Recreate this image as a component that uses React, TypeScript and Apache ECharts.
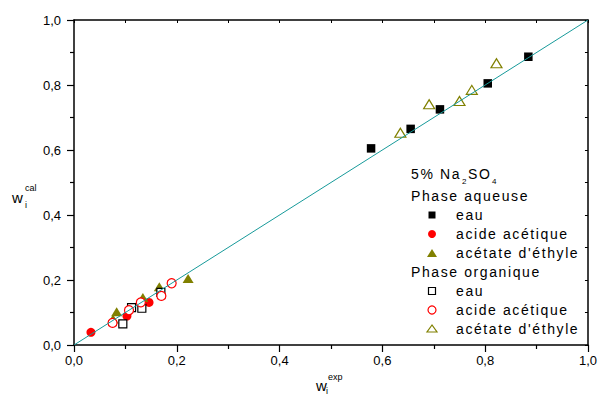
import React, { useEffect, useRef } from 'react';
import * as echarts from 'echarts';

// ---------- data (w_exp vs w_cal) ----------
const tickValues = [0, 0.2, 0.4, 0.6, 0.8, 1.0];
const tickLabels = ['0,0', '0,2', '0,4', '0,6', '0,8', '1,0'];

// Phase aqueuse
const aqEauExp = [0.578, 0.655, 0.712, 0.805, 0.884];
const aqEauCal = [0.605, 0.665, 0.725, 0.805, 0.887];
const aqAcideExp = [0.033, 0.103, 0.146];
const aqAcideCal = [0.039, 0.089, 0.131];
const aqAcetateExp = [0.076, 0.083, 0.134, 0.166, 0.222];
const aqAcetateCal = [0.080, 0.102, 0.146, 0.179, 0.205];

// Phase organique
const orgEauExp = [0.095, 0.112, 0.132, 0.169];
const orgEauCal = [0.065, 0.115, 0.113, 0.162];
const orgAcideExp = [0.075, 0.107, 0.130, 0.170, 0.190];
const orgAcideCal = [0.068, 0.107, 0.131, 0.151, 0.190];
const orgAcetateExp = [0.635, 0.691, 0.750, 0.774, 0.822];
const orgAcetateCal = [0.653, 0.741, 0.751, 0.785, 0.867];

const diagonal = [[0, 0], [1, 1]];

const pairs = (xs: number[], ys: number[]) => xs.map((x, i) => [x, ys[i]]);

const RED = '#ff0000';
const OLIVE = '#808000';
const TEAL = '#179a9a';
const LEG_FONT = '"Liberation Sans", sans-serif';
const AX_FONT = 'Arial, sans-serif';

const fmt = (v: number) => {
  const i = tickValues.findIndex((t) => Math.abs(t - v) < 1e-6);
  return i >= 0 ? tickLabels[i] : '';
};

function legendText(text: string, x: number, y: number, size = 14) {
  return {
    type: 'text',
    x,
    y,
    silent: true,
    style: {
      text,
      fill: '#000',
      fontSize: size,
      fontFamily: LEG_FONT,
      textAlign: 'left',
      textVerticalAlign: 'middle',
    },
  };
}

function nameText(text: string, x: number, y: number, size: number) {
  return {
    type: 'text',
    x,
    y,
    silent: true,
    style: {
      text,
      fill: '#000',
      fontSize: size,
      fontFamily: AX_FONT,
      textAlign: 'left',
      textVerticalAlign: 'middle',
    },
  };
}

export default function App() {
  const ref = useRef<HTMLDivElement>(null);

  useEffect(() => {
    if (!ref.current) return;
    const chart = echarts.init(ref.current, undefined, { renderer: 'svg' });

    const mainAxis = {
      type: 'value',
      min: 0,
      max: 1,
      interval: 0.2,
      axisLine: { show: true, onZero: false, lineStyle: { color: '#000', width: 1.5 } },
      axisTick: { show: true, inside: false, length: 7, lineStyle: { color: '#000', width: 1.2 } },
      minorTick: { show: true, splitNumber: 2, length: 4, lineStyle: { color: '#000', width: 1.2 } },
      splitLine: { show: false },
      minorSplitLine: { show: false },
    };
    const mirrorAxis = {
      type: 'value',
      min: 0,
      max: 1,
      interval: 0.2,
      axisLine: { show: true, onZero: false, lineStyle: { color: '#000', width: 1.5 } },
      axisTick: { show: true, inside: true, length: 3, lineStyle: { color: '#000', width: 1 } },
      minorTick: { show: true, splitNumber: 2, length: 3, lineStyle: { color: '#000', width: 1 } },
      axisLabel: { show: false },
      splitLine: { show: false },
      minorSplitLine: { show: false },
    };

    const lx = 432; // legend marker centre
    const tx = 456; // legend item text
    const hx = 411; // legend header text

    chart.setOption({
      animation: false,
      backgroundColor: '#fff',
      grid: { left: 74, right: 7, top: 20, bottom: 52, containLabel: false },
      xAxis: [
        {
          ...mainAxis,
          position: 'bottom',
          axisLabel: { formatter: fmt, fontSize: 13, fontFamily: AX_FONT, color: '#000', margin: 9 },
        },
        { ...mirrorAxis, position: 'top' },
      ],
      yAxis: [
        {
          ...mainAxis,
          position: 'left',
          axisLabel: { formatter: fmt, fontSize: 13, fontFamily: AX_FONT, color: '#000', margin: 13 },
        },
        { ...mirrorAxis, position: 'right' },
      ],
      series: [
        {
          name: 'eau (aq)',
          type: 'scatter',
          data: pairs(aqEauExp, aqEauCal),
          symbol: 'rect',
          symbolSize: 8.5,
          itemStyle: { color: '#000', opacity: 1 },
          silent: true,
          z: 2,
        },
        {
          name: 'acide acétique (aq)',
          type: 'scatter',
          data: pairs(aqAcideExp, aqAcideCal),
          symbol: 'circle',
          symbolSize: 9,
          itemStyle: { color: RED, opacity: 1 },
          silent: true,
          z: 2,
        },
        {
          name: "acétate d'éthyle (aq)",
          type: 'scatter',
          data: pairs(aqAcetateExp, aqAcetateCal),
          symbol: 'triangle',
          symbolSize: [11, 9],
          itemStyle: { color: OLIVE, opacity: 1 },
          silent: true,
          z: 2,
        },
        {
          name: 'eau (org)',
          type: 'scatter',
          data: pairs(orgEauExp, orgEauCal),
          symbol: 'rect',
          symbolSize: 8,
          itemStyle: { color: '#fff', borderColor: '#000', borderWidth: 1.2, opacity: 1 },
          silent: true,
          z: 3,
        },
        {
          name: 'acide acétique (org)',
          type: 'scatter',
          data: pairs(orgAcideExp, orgAcideCal),
          symbol: 'circle',
          symbolSize: 9,
          itemStyle: { color: '#fff', borderColor: RED, borderWidth: 1.2, opacity: 1 },
          silent: true,
          z: 3,
        },
        {
          name: "acétate d'éthyle (org)",
          type: 'scatter',
          data: pairs(orgAcetateExp, orgAcetateCal),
          symbol: 'triangle',
          symbolSize: [11, 9],
          itemStyle: { color: '#fff', borderColor: OLIVE, borderWidth: 1.2, opacity: 1 },
          silent: true,
          z: 3,
        },
        {
          name: 'y = x',
          type: 'line',
          data: diagonal,
          symbol: 'none',
          lineStyle: { color: TEAL, width: 1 },
          silent: true,
          z: 5,
        },
      ],
      graphic: [
        // axis names
        nameText('w', 12, 197, 15),
        nameText('cal', 25, 188, 9),
        nameText('i', 25, 205, 9),
        nameText('w', 316, 385, 15),
        nameText('exp', 328, 377, 9),
        nameText('i', 326, 391, 9),
        // legend title
        legendText('5% Na', hx, 174),
        legendText('2', 462, 181, 8),
        legendText('SO', 468, 174),
        legendText('4', 492, 181, 8),
        // Phase aqueuse
        legendText('Phase aqueuse', hx, 196),
        { type: 'rect', silent: true, shape: { x: lx - 3.5, y: 215 - 3.5, width: 7, height: 7 }, style: { fill: '#000' } },
        legendText('eau', tx, 215),
        { type: 'circle', silent: true, shape: { cx: lx, cy: 234, r: 4 }, style: { fill: RED } },
        legendText('acide acétique', tx, 234),
        {
          type: 'polygon',
          silent: true,
          shape: { points: [[lx, 249], [lx - 5, 257], [lx + 5, 257]] },
          style: { fill: OLIVE },
        },
        legendText("acétate d'éthyle", tx, 253),
        // Phase organique
        legendText('Phase organique', hx, 272),
        {
          type: 'rect',
          silent: true,
          shape: { x: lx - 3.5, y: 291 - 3.5, width: 7, height: 7 },
          style: { fill: '#fff', stroke: '#000', lineWidth: 1.2 },
        },
        legendText('eau', tx, 291),
        { type: 'circle', silent: true, shape: { cx: lx, cy: 310, r: 4 }, style: { fill: '#fff', stroke: RED, lineWidth: 1.2 } },
        legendText('acide acétique', tx, 310),
        {
          type: 'polygon',
          silent: true,
          shape: { points: [[lx, 325], [lx - 5, 332], [lx + 5, 332]] },
          style: { fill: '#fff', stroke: OLIVE, lineWidth: 1.2 },
        },
        legendText("acétate d'éthyle", tx, 329),
      ],
    });

    return () => chart.dispose();
  }, []);

  return (
    <>
      <style>{`
        body { margin: 0; }
        #chart text[style*="Liberation"], #chart text[font-family*="Liberation"] { letter-spacing: 1.6px; }
      `}</style>
      <div
        id="chart"
        ref={ref}
        style={{ position: 'absolute', left: 0, top: 0, width: 600, height: 397, background: '#fff' }}
      />
    </>
  );
}
